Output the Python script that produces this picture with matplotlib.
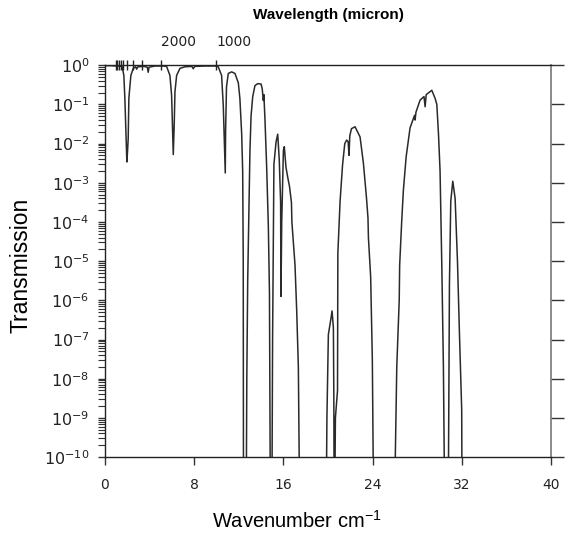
import numpy as np
import matplotlib
matplotlib.use("Agg")
import matplotlib.pyplot as plt
from matplotlib.ticker import LogLocator, NullFormatter, FixedLocator

# ---- data (wavenumber in the axis units, log10 of transmission) ----
wavenumber = [
    0.0, 0.5, 1.0, 1.3, 1.55, 1.7, 1.79, 1.88, 1.97, 2.03, 2.09, 2.15, 2.33, 2.54, 2.75,
    2.85, 2.95, 3.5, 3.8, 3.88, 3.96, 4.5, 5.2, 5.53, 5.83, 5.98, 6.07, 6.13, 6.22, 6.28,
    6.43, 6.73, 7.18, 7.8, 7.92, 8.05, 9.0, 9.9, 10.16, 10.46, 10.61, 10.7, 10.79, 10.82,
    10.9, 11.06, 11.36, 11.66, 11.96, 12.1, 12.26, 12.35, 12.4, 12.42, 12.68, 12.72, 12.8,
    12.9, 13.0, 13.1, 13.25, 13.45, 13.7, 14.0, 14.1, 14.2, 14.25, 14.35, 14.5, 14.65,
    14.75, 14.82, 14.98, 15.03, 15.1, 15.15, 15.34, 15.49, 15.63, 15.75, 15.78, 15.85,
    16.0, 16.08, 16.23, 16.38, 16.55, 16.72, 16.76, 17.04, 17.19, 17.34, 17.43, 19.86,
    19.9, 20.03, 20.27, 20.36, 20.48, 20.52, 20.54, 20.62, 20.66, 20.85, 20.88, 21.08,
    21.3, 21.5, 21.67, 21.8, 21.88, 21.95, 22.1, 22.42, 22.87, 23.17, 23.45, 23.58, 23.62,
    23.82, 23.97, 24.06, 26.0, 26.16, 26.38, 26.42, 26.6, 26.75, 27.0, 27.35, 27.75, 27.8,
    27.88, 28.25, 28.6, 28.7, 28.8, 29.3, 29.6, 29.75, 29.9, 30.04, 30.2, 30.34, 30.43,
    30.79, 30.85, 30.88, 31.0, 31.18, 31.39, 31.6, 31.78, 31.98, 32.0, 40.0,
]
log_transmission = [
    -0.01, -0.01, -0.02, -0.02, -0.04, -0.26, -0.84, -1.7, -2.47, -2.2, -1.87, -0.84, -0.26,
    -0.08, -0.04, -0.1, -0.04, -0.03, -0.05, -0.18, -0.05, -0.02, -0.02, -0.03, -0.26, -0.77,
    -1.62, -2.28, -1.45, -0.68, -0.26, -0.08, -0.04, -0.03, -0.09, -0.03, -0.02, -0.02,
    -0.04, -0.26, -1.02, -1.87, -2.75, -1.66, -0.55, -0.21, -0.17, -0.21, -0.45, -0.85,
    -1.75, -2.7, -4.97, -10.5, -10.5, -8.0, -5.5, -3.8, -2.2, -1.3, -0.8, -0.52, -0.47,
    -0.48, -0.6, -0.9, -0.75, -1.4, -2.6, -4.1, -5.8, -10.5, -10.5, -7.0, -4.5, -2.53,
    -1.96, -1.76, -2.42, -3.5, -5.9, -4.0, -2.17, -2.08, -2.6, -2.85, -3.1, -3.5, -4.0,
    -5.1, -6.25, -7.7, -10.5, -10.5, -9.0, -6.87, -6.45, -6.27, -6.7, -8.5, -10.5, -10.5,
    -9.0, -8.3, -4.8, -3.47, -2.55, -2.0, -1.91, -1.95, -2.3, -1.8, -1.62, -1.57, -1.83,
    -2.5, -3.4, -3.9, -4.4, -5.4, -7.5, -10.5, -10.5, -7.7, -6.0, -5.1, -4.0, -3.2, -2.34,
    -1.6, -1.28, -1.4, -1.2, -0.89, -0.8, -1.06, -0.75, -0.64, -0.85, -1.0, -1.76, -2.7,
    -5.17, -7.7, -10.5, -10.5, -7.0, -5.6, -3.47, -2.96, -3.4, -5.0, -6.87, -8.8, -10.5,
    -10.5,
]
x_ticks = [0, 8, 16, 24, 32, 40]
decades = list(range(0, -11, -1))
wavelength_ticks = [10000, 9000, 8000, 7000, 6000, 5000, 4000, 3000, 2000, 1000]
wavelength_labelled = [2000, 1000]

transmission = 10.0 ** np.array(log_transmission)

fig = plt.figure(figsize=(5.70, 5.39), dpi=100)
ax = fig.add_axes([0.184, 0.152, 0.783, 0.727])
ax.plot(wavenumber, transmission, color="#2a2a2a", lw=1.1)
ax.set_yscale("log")
ax.set_xlim(0, 40)
ax.set_ylim(1e-10, 1.0)

tickfont = "DejaVu Sans"
labfont = "Liberation Sans"

# x axis
ax.set_xticks(x_ticks)
ax.set_xticklabels([str(v) for v in x_ticks], fontsize=10, family=tickfont, color="#222")
ax.tick_params(axis="x", which="major", direction="out", length=6, width=1.0, pad=9,
               bottom=True, top=False, color="#333")

# y axis
ax.yaxis.set_major_locator(FixedLocator([10.0 ** d for d in decades]))
ax.set_yticklabels([r"$\mathregular{10^{%d}}$" % d for d in decades], fontsize=11.5,
                   family=tickfont, color="#222")
ax.yaxis.set_minor_locator(LogLocator(base=10, subs=np.arange(2, 10), numticks=100))
ax.yaxis.set_minor_formatter(NullFormatter())
ax.tick_params(axis="y", which="major", direction="out", length=5, width=1.0, pad=6,
               left=True, right=True, color="#333")
ax.tick_params(axis="y", which="minor", direction="out", length=5, width=0.8,
               left=True, right=False, color="#333")

for s in ["left", "bottom", "top"]:
    ax.spines[s].set_color("#222")
    ax.spines[s].set_linewidth(1.0)
ax.spines["right"].set_color("#777")
ax.spines["right"].set_linewidth(1.2)

for t in ax.yaxis.get_major_ticks():
    t.tick2line.set_markersize(9)
    t.tick2line.set_color("#333")

ax.set_xlabel(r"Wavenumber cm$^{\mathregular{-1}}$", fontsize=14.5, family=labfont)
ax.xaxis.set_label_coords(0.43, -0.135)
ax.set_ylabel("Transmission", fontsize=16.5, family=labfont)
ax.yaxis.set_label_coords(-0.163, 0.49)

# top wavelength axis
top = ax.twiny()
top.set_xlim(ax.get_xlim())
top.set_xticks([10000.0 / w for w in wavelength_ticks])
top.set_xticklabels([str(w) if w in wavelength_labelled else "" for w in wavelength_ticks],
                    fontsize=10, family=tickfont, color="#222")
for lab in top.get_xticklabels():
    lab.set_horizontalalignment("left")
top.tick_params(axis="x", direction="inout", length=7, width=1.0, pad=8, color="#222")
for s in top.spines.values():
    s.set_visible(False)
top.set_title("Wavelength (micron)", fontsize=11, fontweight="bold", family=labfont, pad=12)

fig.savefig("out.png", dpi=100)
